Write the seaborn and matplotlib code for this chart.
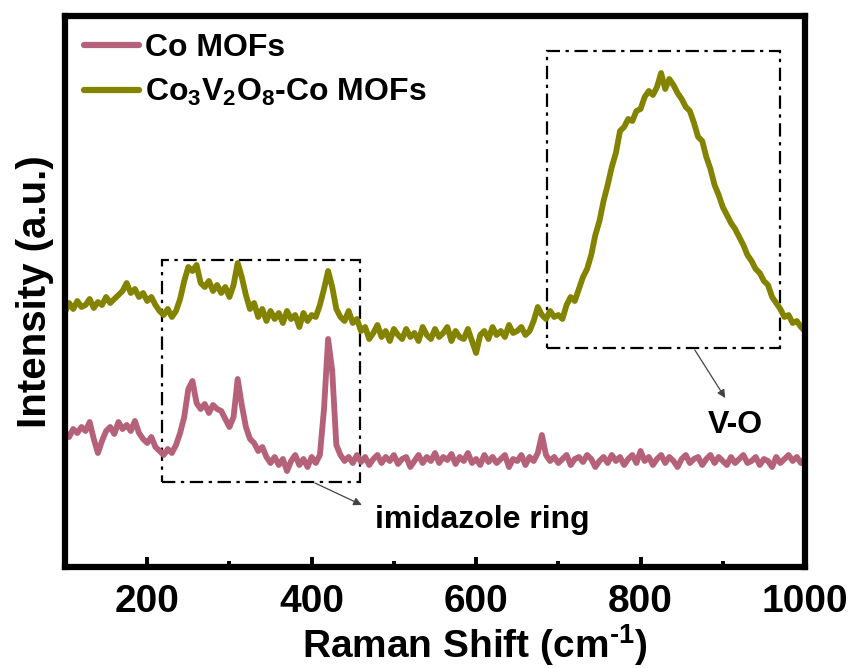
import numpy as np
import pandas as pd
import matplotlib
matplotlib.use("Agg")
import matplotlib.pyplot as plt
from matplotlib.patches import Rectangle
import seaborn as sns

# ---------------- data ----------------
shift = np.arange(100, 1001, 5)  # Raman shift, cm^-1

co_mof = [
    135, 130, 138, 134, 140, 136, 145, 128, 114, 126,   # 100-145
    136, 140, 133, 145, 138, 142, 136, 146, 134, 128,   # 150-195
    124, 130, 120, 116, 112, 118, 114, 122, 134, 150,   # 200-245
    178, 186, 164, 158, 163, 154, 162, 158, 156, 148,   # 250-295
    140, 150, 188, 162, 140, 128, 124, 116, 120, 110,   # 300-345
    104, 110, 102, 108, 96, 106, 112, 102, 108, 100,    # 350-395
    110, 104, 112, 158, 228, 196, 122, 112, 106, 110,   # 400-445
    104, 112, 105, 110, 102, 108, 112, 104, 110, 106,   # 450-495
    112, 103, 108, 110, 100, 106, 112, 104, 110, 106,   # 500-545
    114, 104, 110, 107, 113, 103, 110, 106, 114, 104,   # 550-595
    108, 102, 112, 105, 110, 104, 108, 112, 100, 108,   # 600-645
    106, 112, 102, 110, 106, 114, 132, 112, 106, 110,   # 650-695
    104, 108, 112, 102, 108, 110, 105, 112, 108, 100,   # 700-745
    106, 110, 104, 112, 106, 110, 102, 108, 112, 104,   # 750-795
    116, 106, 110, 102, 108, 112, 104, 110, 106, 100,   # 800-845
    108, 112, 104, 108, 110, 102, 108, 112, 104, 110,   # 850-895
    106, 102, 110, 104, 108, 112, 104, 106, 110, 102,   # 900-945
    108, 106, 100, 110, 104, 108, 112, 106, 110, 104,   # 950-995
    108,                                                # 1000
]

co3v2o8_co_mof = [
    255, 264, 258, 266, 260, 262, 268, 259, 265, 262,   # 100-145
    270, 264, 268, 272, 276, 284, 274, 278, 270, 274,   # 150-195
    266, 270, 262, 256, 252, 258, 250, 256, 268, 286,   # 200-245
    300, 296, 302, 284, 280, 286, 276, 282, 274, 280,   # 250-295
    270, 282, 304, 290, 272, 258, 264, 250, 258, 246,   # 300-345
    256, 248, 254, 244, 256, 248, 252, 240, 254, 246,   # 350-395
    252, 250, 262, 278, 296, 280, 258, 250, 246, 256,   # 400-445
    244, 248, 236, 240, 228, 234, 242, 230, 236, 226,   # 450-495
    238, 232, 228, 238, 230, 234, 226, 240, 232, 228,   # 500-545
    238, 230, 234, 240, 226, 236, 230, 228, 238, 226,   # 550-595
    214, 232, 236, 228, 240, 232, 236, 230, 242, 234,   # 600-645
    236, 240, 232, 236, 246, 260, 252, 248, 256, 250,   # 650-695
    252, 248, 262, 270, 266, 278, 290, 298, 312, 332,   # 700-745
    346, 366, 382, 400, 414, 436, 440, 448, 446, 456,   # 750-795
    458, 470, 476, 472, 480, 494, 478, 488, 482, 474,   # 800-845
    468, 460, 456, 444, 430, 426, 410, 398, 382, 372,   # 850-895
    360, 352, 344, 338, 330, 322, 312, 306, 298, 294,   # 900-945
    286, 282, 270, 264, 258, 250, 252, 244, 246, 240,   # 950-995
    236,                                                # 1000
]

labels = ["Co MOFs", "Co$_3$V$_2$O$_8$-Co MOFs"]
colors = ["#B5617A", "#838300"]
xticks_major = [200, 400, 600, 800, 1000]

# ---------------- style ----------------
sns.set_style("ticks")
plt.rcParams["font.family"] = ["Liberation Sans", "DejaVu Sans"]
plt.rcParams["font.weight"] = "bold"
plt.rcParams["mathtext.fontset"] = "custom"
plt.rcParams["mathtext.rm"] = "Liberation Sans:bold"
plt.rcParams["mathtext.it"] = "Liberation Sans:bold"
plt.rcParams["mathtext.bf"] = "Liberation Sans:bold"
plt.rcParams["mathtext.default"] = "rm"
plt.rcParams["axes.edgecolor"] = "black"
plt.rcParams["xtick.color"] = "black"
plt.rcParams["text.color"] = "black"
plt.rcParams["axes.labelcolor"] = "black"

df = pd.concat([
    pd.DataFrame({"shift": shift, "intensity": co_mof, "sample": labels[0]}),
    pd.DataFrame({"shift": shift, "intensity": co3v2o8_co_mof, "sample": labels[1]}),
])

fig = plt.figure(figsize=(8.57, 6.68), dpi=100)
W, H = 857, 668
L, R, T, B = 65, 805, 16, 567
ax = fig.add_axes([L / W, (H - B) / H, (R - L) / W, (B - T) / H])

sns.lineplot(data=df, x="shift", y="intensity", hue="sample",
             palette=dict(zip(labels, colors)), linewidth=4.2, ax=ax,
             legend=True)

ax.set_xlim(100, 1000)
ax.set_ylim(0, 551)
ax.set_xticks(xticks_major)
ax.set_xticks(np.arange(300, 1000, 200), minor=True)
ax.set_yticks([])
ax.tick_params(axis="x", which="major", direction="in", length=7, width=2.8,
               labelsize=28, pad=12, colors="black")
ax.tick_params(axis="x", which="minor", direction="in", length=4, width=2.8,
               colors="black")
for lab in ax.get_xticklabels():
    lab.set_fontweight("bold")
for s in ax.spines.values():
    s.set_linewidth(4.5)
    s.set_visible(True)
    s.set_edgecolor("black")

ax.set_xlabel("Raman Shift (cm$^{\u20101}$)", fontsize=28, fontweight="bold",
              labelpad=2)
ax.xaxis.set_label_coords((475 - L) / (R - L), -0.1)
ax.set_ylabel("Intensity (a.u.)", fontsize=29, fontweight="bold", labelpad=8)

# legend
leg = ax.legend(loc="upper left", bbox_to_anchor=(0.022, 0.975), frameon=False,
                fontsize=23, handlelength=1.7, handletextpad=0.2,
                labelspacing=0.45, borderaxespad=0, borderpad=0.1)
for line in leg.get_lines():
    line.set_linewidth(4.5)

# dash-dot boxes
dd = (0, (6, 2.5, 1.5, 2.5))
ax.add_patch(Rectangle((218, 85), 459 - 218, 307 - 85, fill=False,
                       edgecolor="black", linewidth=1.6, linestyle=dd))
ax.add_patch(Rectangle((686, 219), 970 - 686, 516 - 219, fill=False,
                       edgecolor="black", linewidth=1.6, linestyle=dd))

# arrows and labels
arrow = dict(arrowstyle="-|>", color="#444444", lw=0.9, mutation_scale=12,
             shrinkA=0, shrinkB=0)
ax.annotate("", xy=(461, 62), xytext=(404, 84), arrowprops=arrow)
ax.annotate("", xy=(903, 169), xytext=(866, 217), arrowprops=arrow)
ax.text(607, 47, "imidazole ring", fontsize=23, fontweight="bold",
        ha="center", va="center")
ax.text(915, 142, "V-O", fontsize=23, fontweight="bold",
        ha="center", va="center")

fig.savefig("out.png", dpi=100)
